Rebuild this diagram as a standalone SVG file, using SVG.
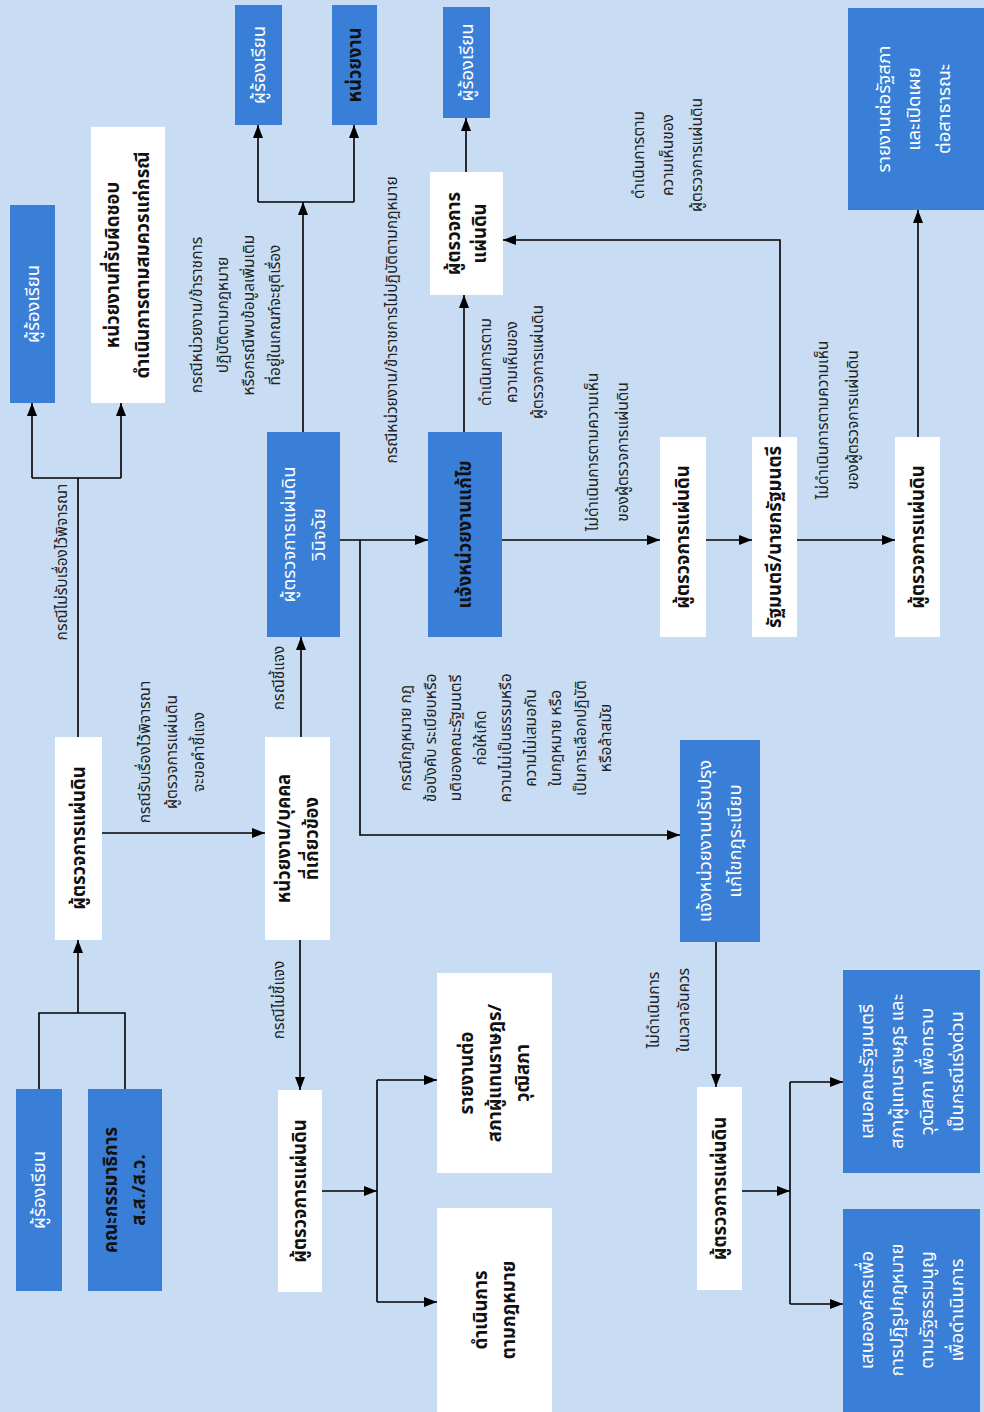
<svg xmlns="http://www.w3.org/2000/svg" width="984" height="1412" viewBox="0 0 984 1412">
<defs>
<marker id="ah" viewBox="0 0 13 10" refX="13" refY="5" markerWidth="13" markerHeight="10" markerUnits="userSpaceOnUse" orient="auto"><path d="M0,0 L13,5 L0,10 z" fill="#000"/></marker>
<style>
.bg{fill:#c8ddf3}
.bl{fill:#3a7fd7}
.wh{fill:#ffffff}
text{font-family:"Noto Sans Thai","Noto Sans Thai UI","Loma","Garuda","Tlwg Typo","Tahoma","Noto Sans",sans-serif;dominant-baseline:central;text-anchor:middle}
.tb{font-size:18.5px;font-weight:bold;fill:#111}
.tw{font-size:18.5px;fill:#fff}
.lb{font-size:15.5px;fill:#222}
.cn path{fill:none;stroke:#000;stroke-width:1.6}
.ar{marker-end:url(#ah)}
</style>
</defs>
<rect class="bg" x="0" y="0" width="984" height="1412"/>

<g class="cn" id="connectors">
<path d="M39,1089 V1013 H125 V1089"/>
<path class="ar" d="M78,1013 V940"/>
<path d="M78,737 V478 M32,478 H121"/>
<path class="ar" d="M32,478 V403"/>
<path class="ar" d="M121,478 V403"/>
<path class="ar" d="M102,833 H265"/>
<path class="ar" d="M301,737 V637"/>
<path class="ar" d="M300,940 V1090"/>
<path class="ar" d="M322,1191 H377"/>
<path d="M377,1080 V1302"/>
<path class="ar" d="M377,1080 H437"/>
<path class="ar" d="M377,1302 H437"/>
<path class="ar" d="M303,432 V202"/>
<path d="M258,202 H354"/>
<path class="ar" d="M258,202 V125"/>
<path class="ar" d="M354,202 V125"/>
<path class="ar" d="M340,540 H428"/>
<path class="ar" d="M360,540 V835 H680"/>
<path class="ar" d="M464,432 V295"/>
<path class="ar" d="M466,172 V118"/>
<path class="ar" d="M780,437 V240 H503"/>
<path class="ar" d="M502,540 H660"/>
<path class="ar" d="M706,540 H752"/>
<path class="ar" d="M797,540 H895"/>
<path class="ar" d="M918,437 V210"/>
<path class="ar" d="M716,942 V1087"/>
<path class="ar" d="M742,1191 H790"/>
<path d="M790,1082 V1304"/>
<path class="ar" d="M790,1082 H843"/>
<path class="ar" d="M790,1304 H843"/>
</g>

<g id="labels">
<text class="lb" transform="translate(62,562) rotate(-90)">กรณีไม่รับเรื่องไว้พิจารณา</text>
<text class="lb" transform="translate(172,752) rotate(-90)"><tspan x="0" y="-27">กรณีรับเรื่องไว้พิจารณา</tspan><tspan x="0" y="0">ผู้ตรวจการแผ่นดิน</tspan><tspan x="0" y="27">จะขอคำชี้แจง</tspan></text>
<text class="lb" transform="translate(279,678) rotate(-90)">กรณีชี้แจง</text>
<text class="lb" transform="translate(279,1000) rotate(-90)">กรณีไม่ชี้แจง</text>
<text class="lb" transform="translate(236,315) rotate(-90)"><tspan x="0" y="-39">กรณีหน่วยงาน/ข้าราชการ</tspan><tspan x="0" y="-13">ปฏิบัติตามกฎหมาย</tspan><tspan x="0" y="13">หรือกรณีพบข้อมูลเพิ่มเติม</tspan><tspan x="0" y="39">ที่อยู่ในเกณฑ์จะยุติเรื่อง</tspan></text>
<text class="lb" transform="translate(392,320) rotate(-90)">กรณีหน่วยงาน/ข้าราชการไม่ปฏิบัติตามกฎหมาย</text>
<text class="lb" transform="translate(506,738) rotate(-90)"><tspan x="0" y="-100">กรณีกฎหมาย กฎ</tspan><tspan x="0" y="-75">ข้อบังคับ ระเบียบหรือ</tspan><tspan x="0" y="-50">มติของคณะรัฐมนตรี</tspan><tspan x="0" y="-25">ก่อให้เกิด</tspan><tspan x="0" y="0">ความไม่เป็นธรรมหรือ</tspan><tspan x="0" y="25">ความไม่เสมอกัน</tspan><tspan x="0" y="50">ในกฎหมาย หรือ</tspan><tspan x="0" y="75">เป็นการเลือกปฏิบัติ</tspan><tspan x="0" y="100">หรือล้าสมัย</tspan></text>
<text class="lb" transform="translate(512,362) rotate(-90)"><tspan x="0" y="-26">ดำเนินการตาม</tspan><tspan x="0" y="0">ความเห็นของ</tspan><tspan x="0" y="26">ผู้ตรวจการแผ่นดิน</tspan></text>
<text class="lb" transform="translate(668,155) rotate(-90)"><tspan x="0" y="-29">ดำเนินการตาม</tspan><tspan x="0" y="0">ความเห็นของ</tspan><tspan x="0" y="29">ผู้ตรวจการแผ่นดิน</tspan></text>
<text class="lb" transform="translate(608,452) rotate(-90)"><tspan x="0" y="-15">ไม่ดำเนินการตามความเห็น</tspan><tspan x="0" y="15">ของผู้ตรวจการแผ่นดิน</tspan></text>
<text class="lb" transform="translate(838,420) rotate(-90)"><tspan x="0" y="-15">ไม่ดำเนินการตามความเห็น</tspan><tspan x="0" y="15">ของผู้ตรวจการแผ่นดิน</tspan></text>
<text class="lb" transform="translate(669,1010) rotate(-90)"><tspan x="0" y="-15">ไม่ดำเนินการ</tspan><tspan x="0" y="15">ในเวลาอันควร</tspan></text>
</g>

<g id="n1"><rect class="bl" x="16" y="1089" width="46" height="202"/><text class="tw" transform="translate(39,1190) rotate(-90)">ผู้ร้องเรียน</text></g>
<g id="n2"><rect class="bl" x="88" y="1089" width="74" height="202"/><text class="tb" transform="translate(125,1190) rotate(-90)"><tspan x="0" y="-14">คณะกรรมาธิการ</tspan><tspan x="0" y="14">ส.ส./ส.ว.</tspan></text></g>
<g id="n3"><rect class="wh" x="55" y="737" width="47" height="203"/><text class="tb" transform="translate(78.5,838) rotate(-90)">ผู้ตรวจการแผ่นดิน</text></g>
<g id="n4"><rect class="bl" x="10" y="205" width="45" height="198"/><text class="tw" transform="translate(32.5,304) rotate(-90)">ผู้ร้องเรียน</text></g>
<g id="n5"><rect class="wh" x="91" y="127" width="74" height="276"/><text class="tb" transform="translate(128,265) rotate(-90)"><tspan x="0" y="-15">หน่วยงานที่รับผิดชอบ</tspan><tspan x="0" y="15">ดำเนินการตามสมควรแก่กรณี</tspan></text></g>
<g id="n6"><rect class="bl" x="235" y="5" width="47" height="120"/><text class="tw" transform="translate(258.5,65) rotate(-90)">ผู้ร้องเรียน</text></g>
<g id="n7"><rect class="bl" x="332" y="5" width="45" height="120"/><text class="tb" transform="translate(354.5,65) rotate(-90)">หน่วยงาน</text></g>
<g id="n8"><rect class="bl" x="267" y="432" width="73" height="205"/><text class="tw" transform="translate(303.5,534.5) rotate(-90)"><tspan x="0" y="-15">ผู้ตรวจการแผ่นดิน</tspan><tspan x="0" y="15">วินิจฉัย</tspan></text></g>
<g id="n9"><rect class="wh" x="265" y="737" width="65" height="203"/><text class="tb" transform="translate(297.5,838.5) rotate(-90)"><tspan x="0" y="-14">หน่วยงาน/บุคคล</tspan><tspan x="0" y="14">ที่เกี่ยวข้อง</tspan></text></g>
<g id="n10"><rect class="wh" x="278" y="1090" width="44" height="202"/><text class="tb" transform="translate(300,1191) rotate(-90)">ผู้ตรวจการแผ่นดิน</text></g>
<g id="n11"><rect class="bl" x="443" y="7" width="47" height="111"/><text class="tw" transform="translate(466.5,62.5) rotate(-90)">ผู้ร้องเรียน</text></g>
<g id="n12"><rect class="wh" x="430" y="172" width="73" height="123"/><text class="tb" transform="translate(466.5,233.5) rotate(-90)"><tspan x="0" y="-13">ผู้ตรวจการ</tspan><tspan x="0" y="13">แผ่นดิน</tspan></text></g>
<g id="n13"><rect class="bl" x="428" y="432" width="74" height="205"/><text class="tb" transform="translate(465,534.5) rotate(-90)">แจ้งหน่วยงานแก้ไข</text></g>
<g id="n14"><rect class="wh" x="437" y="973" width="115" height="200"/><text class="tb" transform="translate(494.5,1073) rotate(-90)"><tspan x="0" y="-28">รายงานต่อ</tspan><tspan x="0" y="0">สภาผู้แทนราษฎร/</tspan><tspan x="0" y="28">วุฒิสภา</tspan></text></g>
<g id="n15"><rect class="wh" x="437" y="1208" width="115" height="204"/><text class="tb" transform="translate(494.5,1310) rotate(-90)"><tspan x="0" y="-14">ดำเนินการ</tspan><tspan x="0" y="14">ตามกฎหมาย</tspan></text></g>
<g id="n16"><rect class="wh" x="660" y="437" width="46" height="200"/><text class="tb" transform="translate(683,537) rotate(-90)">ผู้ตรวจการแผ่นดิน</text></g>
<g id="n17"><rect class="bl" x="680" y="740" width="80" height="202"/><text class="tw" transform="translate(720,841) rotate(-90)"><tspan x="0" y="-15">แจ้งหน่วยงานปรับปรุง</tspan><tspan x="0" y="15">แก้ไขกฎระเบียบ</tspan></text></g>
<g id="n18"><rect class="wh" x="697" y="1087" width="45" height="203"/><text class="tb" transform="translate(719.5,1188.5) rotate(-90)">ผู้ตรวจการแผ่นดิน</text></g>
<g id="n19"><rect class="wh" x="752" y="437" width="45" height="200"/><text class="tb" transform="translate(774.5,537) rotate(-90)">รัฐมนตรี/นายกรัฐมนตรี</text></g>
<g id="n20"><rect class="wh" x="895" y="437" width="45" height="200"/><text class="tb" transform="translate(917.5,537) rotate(-90)">ผู้ตรวจการแผ่นดิน</text></g>
<g id="n21"><rect class="bl" x="848" y="8" width="136" height="202"/><text class="tw" transform="translate(914,109) rotate(-90)"><tspan x="0" y="-30">รายงานต่อรัฐสภา</tspan><tspan x="0" y="0">และเปิดเผย</tspan><tspan x="0" y="30">ต่อสาธารณะ</tspan></text></g>
<g id="n22"><rect class="bl" x="843" y="970" width="137" height="203"/><text class="tw" transform="translate(911.5,1071.5) rotate(-90)"><tspan x="0" y="-45">เสนอคณะรัฐมนตรี</tspan><tspan x="0" y="-15">สภาผู้แทนราษฎร และ</tspan><tspan x="0" y="15">วุฒิสภา เพื่อทราบ</tspan><tspan x="0" y="45">เป็นกรณีเร่งด่วน</tspan></text></g>
<g id="n23"><rect class="bl" x="843" y="1209" width="137" height="203"/><text class="tw" transform="translate(911.5,1310) rotate(-90)"><tspan x="0" y="-45">เสนอองค์กรเพื่อ</tspan><tspan x="0" y="-15">การปฏิรูปกฎหมาย</tspan><tspan x="0" y="15">ตามรัฐธรรมนูญ</tspan><tspan x="0" y="45">เพื่อดำเนินการ</tspan></text></g>
</svg>
